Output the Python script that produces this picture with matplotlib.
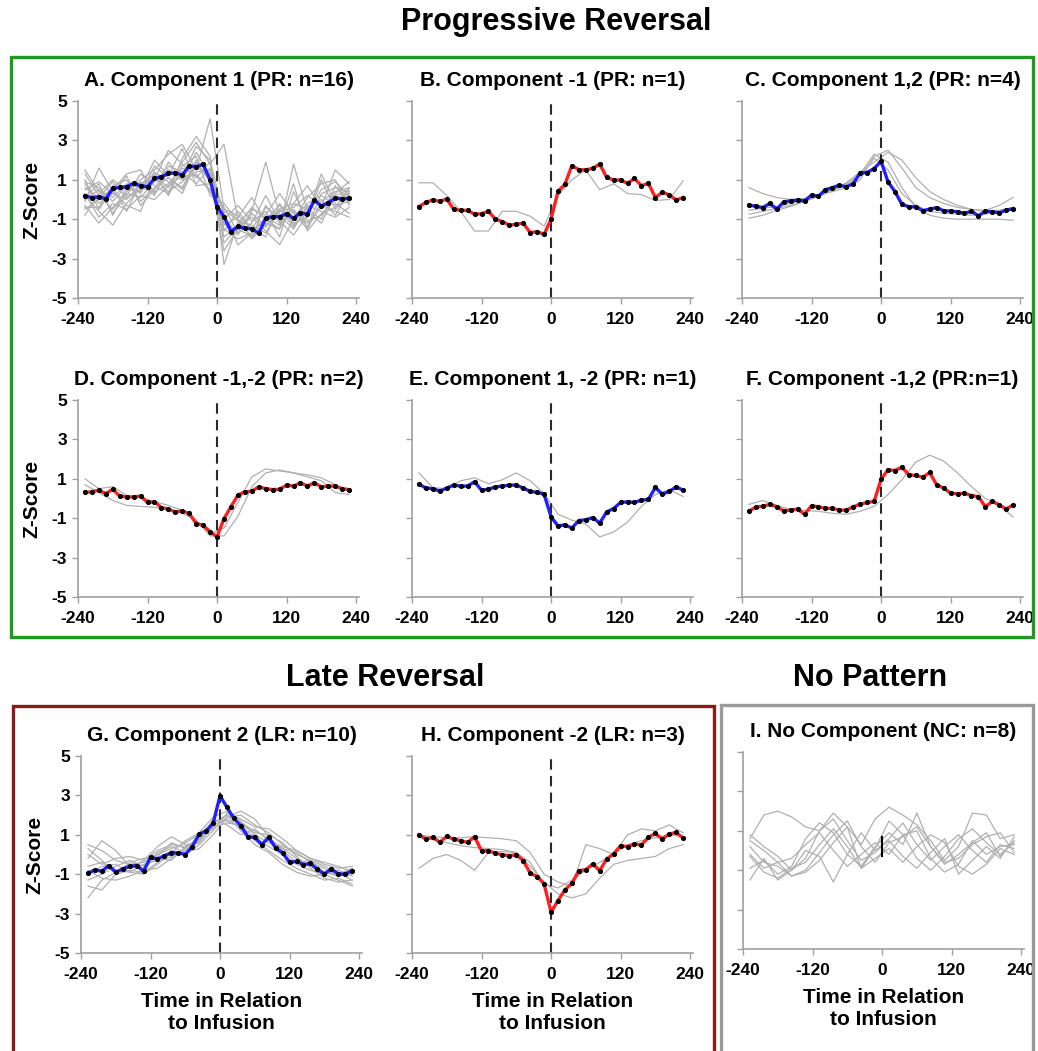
import matplotlib
matplotlib.use("Agg")
import matplotlib.pyplot as plt
import numpy as np
from matplotlib.patches import Rectangle

plt.rcParams['font.family'] = ['Liberation Sans', 'DejaVu Sans']
plt.rcParams['font.weight'] = 'bold'
plt.rcParams['axes.unicode_minus'] = False

# time bins (minutes relative to infusion)
t_mean = np.arange(-228, 229, 12)     # averaged trace, 12 min bins
t_trace = np.arange(-228, 229, 24)    # single sessions
xticks = [-240, -120, 0, 120, 240]
yticks = [5, 3, 1, -1, -3, -5]

# ---- averaged z-scores per component --------------------------------------
mean_A = [0.19, 0.09, 0.14, 0.03, 0.56, 0.61, 0.65, 0.82, 0.70, 0.65, 1.07, 1.16, 1.32,
          1.36, 1.24, 1.71, 1.66, 1.78, 0.99, -0.36, -0.87, -1.63, -1.37, -1.46, -1.49,
          -1.71, -0.95, -0.87, -0.87, -0.73, -0.95, -0.67, -0.75, -0.03, -0.33, -0.16,
          0.06, 0.03, 0.06]
mean_B = [-0.36, -0.15, -0.02, -0.10, 0.03, -0.50, -0.55, -0.55, -0.75, -0.72, -0.60,
          -1.00, -1.12, -1.30, -1.26, -1.20, -1.68, -1.63, -1.77, -1.00, 0.41, 0.78, 1.72,
          1.51, 1.51, 1.58, 1.80, 1.12, 0.99, 0.99, 0.82, 1.07, 0.70, 0.82, 0.10, 0.36,
          0.24, -0.03, 0.10]
mean_C = [-0.29, -0.34, -0.41, -0.20, -0.49, -0.12, -0.07, -0.03, -0.07, 0.22, 0.17,
          0.50, 0.60, 0.73, 0.64, 0.81, 1.35, 1.37, 1.57, 1.94, 0.90, 0.40, -0.24, -0.37,
          -0.37, -0.57, -0.49, -0.41, -0.57, -0.59, -0.62, -0.71, -0.59, -0.83, -0.59,
          -0.62, -0.68, -0.54, -0.47]
mean_D = [0.31, 0.34, 0.42, 0.25, 0.47, 0.12, 0.08, 0.08, 0.12, -0.20, -0.17, -0.46,
          -0.54, -0.68, -0.63, -0.76, -1.27, -1.36, -1.69, -1.95, -1.02, -0.42, 0.17, 0.34,
          0.37, 0.59, 0.50, 0.45, 0.47, 0.68, 0.63, 0.80, 0.63, 0.80, 0.59, 0.63, 0.63,
          0.50, 0.45]
mean_E = [0.73, 0.53, 0.50, 0.37, 0.53, 0.68, 0.63, 0.63, 0.85, 0.42, 0.47, 0.59, 0.63,
          0.68, 0.68, 0.53, 0.36, 0.31, 0.22, -0.93, -1.39, -1.34, -1.50, -1.12, -1.08,
          -0.97, -1.25, -0.68, -0.51, -0.20, -0.17, -0.20, -0.08, -0.05, 0.56, 0.22, 0.36,
          0.59, 0.42]
mean_F = [-0.64, -0.44, -0.39, -0.30, -0.42, -0.63, -0.59, -0.54, -0.80, -0.37, -0.42,
          -0.50, -0.50, -0.59, -0.59, -0.42, -0.29, -0.20, -0.15, 0.97, 1.46, 1.42, 1.59,
          1.20, 1.17, 1.08, 1.32, 0.69, 0.53, 0.27, 0.24, 0.27, 0.15, 0.10, -0.42, -0.15,
          -0.32, -0.54, -0.32]
mean_G = [-0.95, -0.78, -0.85, -0.56, -0.90, -0.73, -0.60, -0.56, -0.85, -0.14, -0.23,
          -0.06, 0.08, 0.08, 0.00, 0.40, 1.04, 1.20, 1.58, 2.98, 2.39, 1.83, 1.46, 0.90,
          0.87, 0.50, 0.87, 0.33, 0.08, -0.40, -0.35, -0.51, -0.45, -0.76, -0.99, -0.73,
          -0.99, -0.99, -0.82]
mean_H = [1.00, 0.78, 0.87, 0.62, 0.92, 0.78, 0.70, 0.62, 0.90, 0.19, 0.19, 0.06, -0.01,
          -0.06, -0.01, -0.31, -0.95, -1.12, -1.49, -2.93, -2.34, -1.79, -1.47, -0.82,
          -0.77, -0.48, -0.82, -0.23, 0.03, 0.45, 0.40, 0.53, 0.49, 0.87, 1.07, 0.78, 1.04,
          1.12, 0.83]

# ---- single sessions ---------------------------------------------------------
traces_A = [
    [1.3, 0.2, -0.5, 0.4, 1.0, 1.5, 2.3, 2.8, 1.5, 4.1, -0.5, -0.8, -1.5, -0.4, -0.9, -0.5, -1.4, 0.3, 0.6, 0.4],
    [0.5, 0.9, 0.3, 0.0, 0.8, 1.2, 0.6, 1.9, 2.9, 1.8, 2.8, -1.0, -1.9, -1.2, -1.5, 1.8, -0.6, -1.2, 0.2, 0.5],
    [-0.3, -1.2, -0.4, 0.3, 0.1, 0.9, 1.5, 1.0, 2.4, 1.2, -1.5, -2.0, -1.7, -1.0, -0.3, -1.2, -0.9, 1.0, -0.5, 0.2],
    [0.2, -0.6, -1.3, -0.2, 0.6, 0.4, 0.8, 1.6, 1.2, 0.5, -1.2, -1.6, -0.6, 1.9, -0.8, -1.5, -0.3, -0.6, -0.9, -0.4],
    [1.5, 0.4, 0.1, 0.8, 0.3, 1.7, 1.1, 0.6, 2.0, 1.4, -0.6, -1.0, -2.0, -1.3, -0.5, -0.2, 0.7, -0.4, 1.5, 0.8],
    [-0.5, 0.0, 0.6, -0.6, 0.9, 0.2, 1.7, 1.4, 0.8, 1.6, -2.2, -1.4, -0.9, -1.6, -2.3, -1.0, -0.2, 0.2, -0.3, -0.1],
    [0.0, 0.5, -0.7, 0.2, 1.3, 0.7, 0.3, 2.1, 3.2, 2.2, -3.3, -1.2, -0.5, -0.8, 0.3, -0.7, -1.5, -0.1, 0.4, 0.6],
    [0.8, -0.2, 0.3, 1.2, -0.3, 0.5, 1.9, 1.0, 1.3, 0.4, -0.4, -1.7, -1.2, 0.2, -1.1, -1.8, -0.8, 1.3, -0.2, -0.7],
    [-0.8, 0.3, 1.0, 0.5, 0.4, 1.4, 0.9, 0.3, 1.9, 0.9, -1.0, -0.3, -1.1, -0.6, -1.9, 0.4, -1.1, -0.8, 0.1, 0.3],
    [0.3, -0.9, -0.2, -0.5, 0.2, 0.0, 0.7, 1.2, 2.7, 2.0, -0.9, -1.8, -0.7, -1.4, -0.6, -0.4, 0.2, -0.3, -0.6, -0.9],
    [0.9, 0.6, -0.1, 0.7, 0.8, 1.0, 2.5, 1.8, 1.1, 1.9, -1.6, -0.6, -1.5, -1.9, -0.2, -1.3, -0.6, 0.5, 0.9, 0.2],
    [-0.1, 1.6, 0.4, -0.3, -0.6, 1.1, 0.4, 0.9, 1.6, 1.3, -0.7, -2.3, -1.7, -0.9, -1.3, 0.8, -1.6, -0.7, -0.4, 0.6],
    [0.6, 0.1, 0.9, 0.1, 0.5, 2.0, 1.2, 2.6, 0.7, 0.8, -1.3, -0.9, 0.1, -1.1, -0.8, -1.0, 0.1, 0.8, 1.0, -0.3],
    [-0.4, -0.4, 0.7, 1.0, -0.1, 0.6, 1.1, 0.5, 1.8, 1.1, -2.6, -1.5, -1.9, -0.3, -1.2, -0.6, -1.2, -0.4, 0.3, 0.9],
    [0.1, 0.8, -0.8, 0.6, 0.7, 1.3, 0.2, 1.7, 2.2, 0.2, -0.2, -1.1, -1.3, -1.7, -0.5, -1.4, -0.4, 0.0, -0.8, 0.4],
    [1.0, -0.5, 0.5, 1.3, 1.5, 0.3, 1.4, 1.1, 1.4, 1.5, -1.9, -1.3, -0.4, -1.0, -1.5, -0.2, -0.5, -1.0, 0.7, -0.2],
]
traces_B = [
    [0.85, 0.85, 0.2, -0.6, -1.6, -1.6, -0.6, -0.6, -0.85, -1.35, 0.2, 1.0, 1.5, 0.5, 0.8, 0.3, 0.25, -0.05, 0.0, 0.95],
]
traces_C = [
    [0.6, 0.3, 0.1, 0.0, 0.05, 0.2, 0.4, 0.6, 1.0, 2.2, 2.5, 1.6, 0.6, 0.1, -0.2, -0.4, -0.5, -0.55, -0.3, 0.1],
    [-0.75, -0.6, -0.45, -0.3, -0.1, 0.15, 0.45, 0.75, 1.3, 2.3, 1.9, 0.6, -0.4, -0.8, -0.95, -1.0, -1.0, -1.0, -1.0, -1.05],
    [-0.55, -0.45, -0.35, -0.2, 0.0, 0.25, 0.5, 0.8, 1.2, 2.1, 1.5, 0.3, -0.3, -0.6, -0.7, -0.75, -0.8, -0.75, -0.6, -0.5],
    [-0.95, -0.8, -0.55, -0.35, -0.1, 0.2, 0.5, 0.85, 1.4, 1.9, 2.4, 2.0, 1.1, 0.4, 0.0, -0.3, -0.5, -0.6, -0.55, -0.4],
]
traces_D = [
    [1.0, 0.5, 0.6, 0.15, 0.05, -0.15, -0.35, -0.6, -1.1, -1.8, -1.5, -0.2, 1.1, 1.5, 1.4, 1.3, 1.2, 1.05, 0.7, 0.35],
    [0.7, 0.3, -0.1, -0.35, -0.4, -0.45, -0.55, -0.75, -1.1, -1.9, -1.9, -0.9, 0.6, 1.3, 1.45, 1.3, 1.1, 0.9, 0.3, 0.2],
]
traces_E = [
    [1.3, 0.55, 0.5, 0.9, 1.05, 0.75, 0.95, 1.3, 0.9, 0.25, -0.8, -1.1, -1.3, -1.95, -1.7, -1.2, -0.4, 0.2, 0.45, 0.1],
]
traces_F = [
    [-0.3, -0.1, -0.35, -0.55, -0.6, -0.65, -0.75, -0.8, -0.65, -0.4, 0.2, 0.95, 1.85, 2.2, 1.9, 1.3, 0.6, 0.0, -0.3, -0.95],
]
traces_G = [
    [0.5, 0.2, -0.3, -0.5, -0.4, 0.0, 0.3, 0.6, 1.0, 1.6, 2.0, 1.6, 1.2, 0.8, 0.3, -0.2, -0.6, -0.9, -1.1, -1.0],
    [-2.2, -1.3, -0.9, -0.7, -0.3, 0.2, 0.5, 0.4, 0.8, 1.3, 1.9, 2.0, 1.5, 1.1, 0.5, 0.0, -0.3, -0.6, -0.9, -1.3],
    [-1.6, -1.8, -1.0, -0.8, -0.9, -0.4, -0.1, 0.2, 0.7, 1.5, 1.8, 1.3, 0.7, 0.2, -0.3, -0.7, -1.0, -1.3, -1.2, -1.5],
    [-0.6, -0.4, -0.8, -0.9, -0.5, -0.3, 0.2, 0.0, 0.5, 1.2, 2.1, 1.8, 1.4, 1.3, 0.8, 0.2, -0.2, -0.5, -0.7, -0.6],
    [-0.2, 0.7, 0.2, -0.6, -0.7, -0.1, 0.6, 0.3, 0.9, 1.7, 1.7, 1.4, 0.9, 0.4, 0.0, -0.5, -0.8, -1.0, -0.8, -1.1],
    [-1.0, -0.6, -0.5, -0.9, -1.0, -0.5, 0.1, 0.7, 1.1, 1.9, 2.2, 1.7, 1.0, 0.6, 0.3, 0.1, -0.4, -0.7, -1.1, -0.9],
    [0.3, -0.3, -1.0, -0.4, -0.2, -0.2, -0.3, 0.4, 0.6, 1.4, 1.6, 1.5, 1.1, 1.0, 0.6, -0.1, -0.7, -1.2, -1.4, -1.3],
    [-1.3, -1.0, -0.6, -0.3, -0.6, 0.1, 0.4, 0.1, 0.3, 1.0, 1.9, 2.2, 1.8, 0.9, 0.2, -0.4, -0.3, -0.9, -1.0, -0.7],
    [-0.8, -1.2, -1.3, -1.1, -0.8, -0.7, -0.2, 0.3, 0.8, 1.6, 2.0, 1.2, 0.5, 0.1, -0.5, -0.9, -1.1, -1.0, -1.3, -1.6],
    [0.0, -0.5, -0.2, -0.1, -0.3, 0.4, 0.9, 0.5, 0.6, 1.8, 1.5, 1.0, 1.3, 0.7, 0.4, 0.2, -0.2, -0.4, -0.6, -0.9],
]
traces_H = [
    [1.0, 0.9, 0.85, 0.85, 0.9, 0.85, 0.8, 0.7, 0.1, -1.0, -1.4, -1.6, 0.5, 0.3, 0.0, 1.0, 1.3, 1.2, 1.5, 1.1],
    [-0.7, -0.2, 0.0, -0.3, -0.8, 0.1, 0.15, 0.1, -0.6, -1.4, -2.0, -2.2, -2.0, -1.2, -0.5, -0.3, -0.2, -0.1, 0.3, 0.5],
    [1.0, 0.75, 0.6, 0.45, 0.35, 0.3, 0.25, 0.1, -0.4, -1.5, -1.7, -1.3, -0.8, -0.4, 0.0, 0.5, 0.7, 0.85, 1.0, 0.9],
]
traces_I = [
    [0.6, 1.8, 2.0, 1.7, 1.2, 1.0, 1.9, 1.2, 0.3, 1.6, 2.2, 1.8, 1.3, 0.5, -0.5, 0.2, 1.9, 1.8, 0.6, 0.8],
    [-0.9, -0.5, -1.2, -0.8, 0.6, 1.4, 0.9, -0.2, -0.8, 0.2, 0.9, 0.3, 1.9, 0.2, -0.7, -0.2, 0.4, 0.9, -0.3, 0.5],
    [0.8, 0.2, -0.3, -1.0, -0.4, 1.0, 1.6, 0.5, -0.5, -0.1, 0.6, 1.4, 0.3, -0.5, 0.2, 0.8, 0.0, -0.6, 0.3, 0.1],
    [-0.3, -1.1, -1.4, -0.9, -0.6, 0.3, 1.1, 0.2, -0.9, 0.1, 1.5, 0.8, -0.4, -1.0, -0.3, 0.6, 1.1, 0.4, -0.2, 0.4],
    [0.2, -0.6, -0.8, -1.3, -1.0, -0.1, 0.8, 1.5, 0.2, -0.6, 0.4, 0.7, 1.2, 0.2, -0.6, -0.4, 0.3, 0.7, 0.9, -0.1],
    [-1.5, -0.4, -1.5, -1.0, 0.0, -0.3, -1.6, -0.2, 0.9, 0.0, 0.5, -0.3, -0.9, -0.1, 0.6, -1.2, -0.5, 0.2, -0.4, 0.7],
    [0.5, 0.0, -0.6, -0.4, 0.3, 0.9, 0.0, -0.8, -0.2, 0.4, -0.2, 0.8, 1.0, -0.4, -1.1, -0.7, 0.5, -0.2, 0.2, 0.3],
    [-0.2, -0.9, -0.6, -1.3, -1.1, -0.5, 0.4, 1.2, -0.9, -0.4, 0.1, -0.6, 0.2, 0.8, 0.4, -0.8, -1.2, -0.7, 0.1, -0.2],
]
mark_I_t = [0, 0]
mark_I_z = [0.7, -0.3]

BLUE = '#1f1fff'
RED = '#ff1f1f'
GRAY = '#b0b0b0'
AXCOL = '#a0a0a0'

W, H = 1038, 1051
fig = plt.figure(figsize=(W / 100, H / 100), dpi=100)
AX_W, AX_H = 281, 197


def draw_panel(x0, y0, title, mean, traces, color, ylab=False, xlab=False, zero=True):
    ax = fig.add_axes([x0 / W, 1 - (y0 + AX_H) / H, AX_W / W, AX_H / H])
    for tr in traces:
        ax.plot(t_trace, tr, color=GRAY, lw=0.9, zorder=1)
    if zero:
        ax.axvline(0, color='#2a2a2a', lw=1.5, ls=(0, (5, 3)), zorder=2)
    if mean is not None:
        ax.plot(t_mean, mean, color=color, lw=2.4, zorder=3)
        ax.plot(t_mean, mean, 'o', color='black', ms=2.7, zorder=4)
    ax.set_xlim(-240, 245)
    ax.set_ylim(-5, 5)
    ax.set_xticks(xticks)
    ax.set_yticks(yticks)
    for s in ('top', 'right'):
        ax.spines[s].set_visible(False)
    for s in ('left', 'bottom'):
        ax.spines[s].set_color(AXCOL)
        ax.spines[s].set_linewidth(1.2)
    ax.tick_params(direction='out', length=4, width=1, color=AXCOL, labelsize=12.5)
    ax.tick_params(axis='x', pad=6)
    ax.tick_params(axis='y', pad=4, labelleft=ylab)
    ax.set_title(title, fontsize=15, fontweight='bold', pad=11)
    if ylab:
        ax.text(-0.165, 0.5, 'Z-Score', transform=ax.transAxes, rotation=90,
                ha='center', va='center', fontsize=15, fontweight='bold')
    if xlab:
        ax.text(0.5, -0.20, 'Time in Relation\nto Infusion', transform=ax.transAxes,
                ha='center', va='top', fontsize=15, fontweight='bold', linespacing=1.2)
    return ax


draw_panel(78, 101, 'A. Component 1 (PR: n=16)', mean_A, traces_A, BLUE, ylab=True)
draw_panel(412, 101, 'B. Component -1 (PR: n=1)', mean_B, traces_B, RED)
draw_panel(742, 101, 'C. Component 1,2 (PR: n=4)', mean_C, traces_C, BLUE)
draw_panel(78, 400, 'D. Component -1,-2 (PR: n=2)', mean_D, traces_D, RED, ylab=True)
draw_panel(412, 400, 'E. Component 1, -2 (PR: n=1)', mean_E, traces_E, BLUE)
draw_panel(742, 400, 'F. Component -1,2 (PR:n=1)', mean_F, traces_F, RED)
draw_panel(81, 756, 'G. Component 2 (LR: n=10)', mean_G, traces_G, BLUE, ylab=True, xlab=True)
draw_panel(412, 756, 'H. Component -2 (LR: n=3)', mean_H, traces_H, RED, xlab=True)
ax_i = draw_panel(743, 752, 'I. No Component (NC: n=8)', None, traces_I, None,
                  xlab=True, zero=False)
ax_i.plot(mark_I_t, mark_I_z, color='black', lw=1.5, zorder=4)


# group frames and headings
def frame(x0, y0, x1, y1, col):
    fig.add_artist(Rectangle((x0 / W, 1 - y1 / H), (x1 - x0) / W, (y1 - y0) / H,
                             transform=fig.transFigure, fill=False, ec=col, lw=2.4))


frame(11, 57, 1033, 637, '#1f9a1f')
frame(13, 706, 714, H + 10, '#8b1a1a')
frame(721, 705, 1033, H + 10, '#9a9a9a')

fig.text(556 / W, 1 - 22 / H, 'Progressive Reversal', ha='center', va='center',
         fontsize=22, fontweight='bold')
fig.text(385 / W, 1 - 678 / H, 'Late Reversal', ha='center', va='center',
         fontsize=22, fontweight='bold')
fig.text(870 / W, 1 - 678 / H, 'No Pattern', ha='center', va='center',
         fontsize=22, fontweight='bold')

fig.savefig('out.png', dpi=100)
